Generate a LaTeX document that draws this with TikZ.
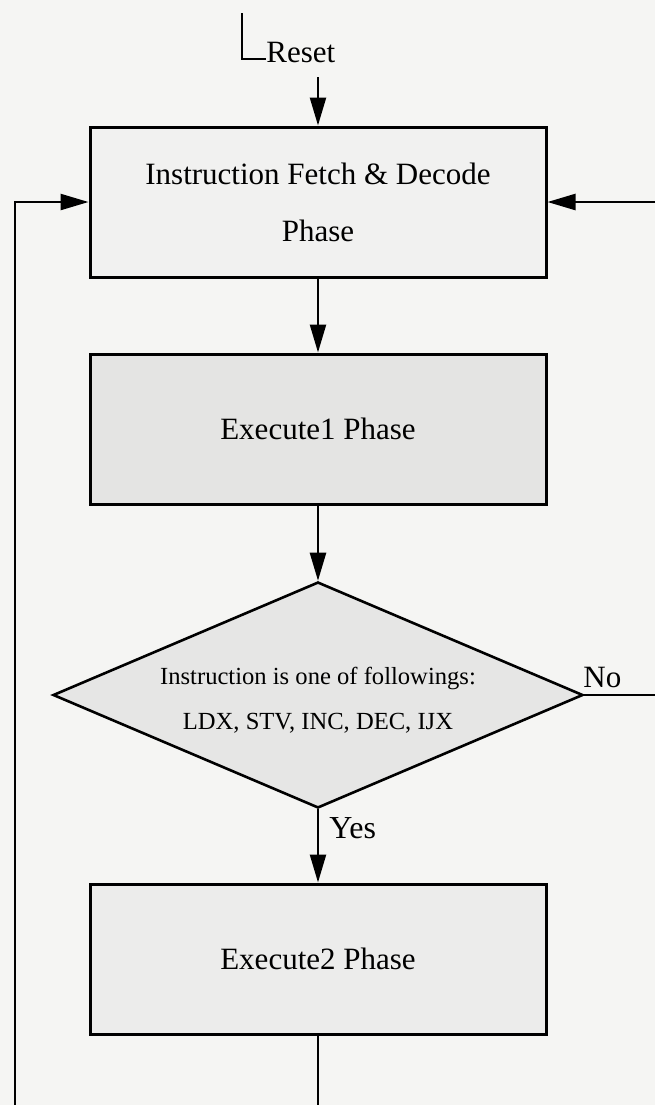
\documentclass[tikz,border=0pt]{standalone}
\usepackage{fontspec}
\setmainfont{Liberation Serif}
\usetikzlibrary{arrows.meta,shapes.geometric}
\definecolor{bgc}{HTML}{F5F5F3}
\definecolor{boxa}{HTML}{F1F1F0}
\definecolor{boxb}{HTML}{E4E4E3}
\definecolor{decc}{HTML}{E6E6E5}
\definecolor{boxc}{HTML}{ECECEB}
\begin{document}
\begin{tikzpicture}[x=0.5pt,y=-0.5pt,
  box/.style={draw, line width=1.5pt, minimum width=228pt, minimum height=75pt, inner sep=0pt,
    font=\fontsize{15.5}{28.5}\selectfont, align=center},
  conn/.style={line width=1.2pt},
  arr/.style={conn, -{Triangle[length=14pt,width=8pt]}},
  lbl/.style={anchor=base west, inner sep=0pt, font=\fontsize{15.5}{18}\selectfont}]
\fill[bgc] (0,0) rectangle (655,1105);
\useasboundingbox (0,0) rectangle (655,1105);

\node[box, fill=boxa] (fetch) at (318,202) {Instruction Fetch \& Decode\\Phase};
\node[box, fill=boxb] (ex1) at (318,429) {Execute1 Phase};
\node[diamond, draw, line width=1.3pt, fill=decc, minimum width=265pt, minimum height=113pt, inner sep=0pt] (dec) at (318,695) {};
\node[font=\fontsize{12.3}{22.5}\selectfont, align=center, inner sep=0pt] (dect) at (318,700) {Instruction is one of followings:\\LDX, STV, INC, DEC, IJX};
\node[box, fill=boxc] (ex2) at (318,959) {Execute2 Phase};

% Reset
\coordinate (rtop) at (242,13);
\coordinate (rcorner) at (242,59);
\node[lbl] (reset) at (266,62) {Reset};
\draw[conn] (rtop) -- (rcorner) -- (rcorner -| reset.west);
\coordinate (rs) at (318,77);
\draw[arr] (rs) -- (fetch.north);

% main flow
\draw[arr] (fetch.south) -- (ex1.north);
\draw[arr] (ex1.south) -- (dec.north);
\draw[arr] (dec.south) -- (ex2.north);
\coordinate (be) at (318,1105);
\draw[conn] (ex2.south) -- (be);

% loops
\coordinate (lb) at (15,1105);
\draw[arr] (lb) |- (fetch.west);
\coordinate (rt) at (655,202);
\draw[arr] (rt) -- (fetch.east);
\coordinate (re) at (655,695);
\draw[conn] (dec.east) -- (re);

\node[lbl] (no) at (583,687) {No};
\node[lbl, font=\fontsize{16}{18}\selectfont] (yes) at (329,838) {Yes};
\end{tikzpicture}
\end{document}
